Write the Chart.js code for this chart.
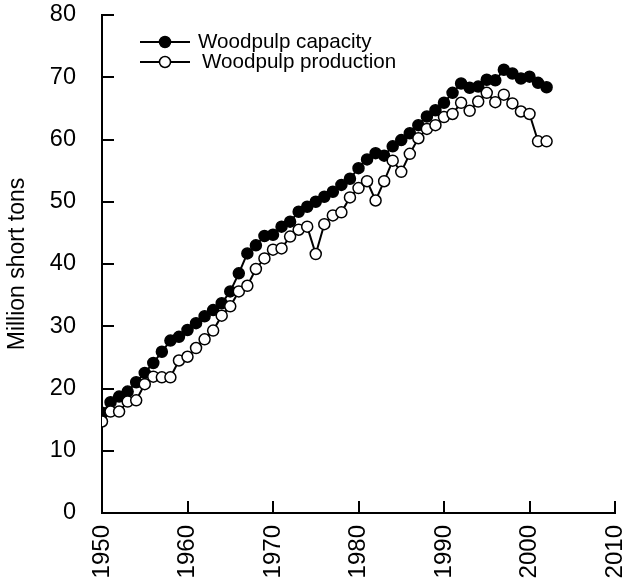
<!DOCTYPE html>
<html><head><meta charset="utf-8">
<script src="https://cdn.jsdelivr.net/npm/chart.js@4.4.0/dist/chart.umd.min.js"></script>
<style>html,body{margin:0;padding:0;background:#fff;}canvas{display:block;}</style>
</head><body>
<canvas id="c" width="622" height="578"></canvas>
<script>
const years = [1950,1951,1952,1953,1954,1955,1956,1957,1958,1959,
  1960,1961,1962,1963,1964,1965,1966,1967,1968,1969,
  1970,1971,1972,1973,1974,1975,1976,1977,1978,1979,
  1980,1981,1982,1983,1984,1985,1986,1987,1988,1989,
  1990,1991,1992,1993,1994,1995,1996,1997,1998,1999,
  2000,2001,2002];
const capacity = [16.1,17.8,18.7,19.5,21.0,22.5,24.1,25.9,27.7,28.3,
  29.4,30.5,31.6,32.6,33.7,35.6,38.5,41.7,43.0,44.5,
  44.7,46.0,46.8,48.4,49.2,50.0,50.8,51.6,52.7,53.7,
  55.4,56.8,57.8,57.4,58.9,59.9,61.0,62.3,63.7,64.7,
  65.9,67.5,69.0,68.3,68.5,69.6,69.5,71.2,70.6,69.8,
  70.1,69.1,68.4];
const production = [14.7,16.3,16.3,17.9,18.1,20.7,21.9,21.8,21.8,24.5,
  25.1,26.5,27.9,29.3,31.7,33.2,35.6,36.5,39.2,40.9,
  42.3,42.5,44.4,45.5,46.0,41.6,46.4,47.8,48.3,50.7,
  52.2,53.3,50.2,53.3,56.6,54.8,57.7,60.2,61.7,62.3,
  63.6,64.1,65.9,64.6,66.1,67.5,66.0,67.2,65.8,64.5,
  64.1,59.7,59.7];
const xTickValues = [1950,1960,1970,1980,1990,2000,2010];
const yTickValues = [0,10,20,30,40,50,60,70,80];
const seriesNames = ['Woodpulp capacity','Woodpulp production'];
const yAxisTitle = 'Million short tons';

const FONT = "'Liberation Sans', Arial, sans-serif";
const FS_LEGEND = 20.6, FS_XTICK = 24, FS_YTICK = 23.5, FS_TITLE = 23;

const innerTicks = {
  id: 'innerTicks',
  beforeDatasetsDraw(chart) {
    const ctx = chart.ctx, x = chart.scales.x, y = chart.scales.y;
    const L = 12;
    ctx.save();
    ctx.strokeStyle = '#000';
    ctx.lineWidth = 2;
    ctx.beginPath();
    yTickValues.forEach(v => {
      const py = Math.round(y.getPixelForValue(v));
      ctx.moveTo(x.left, py); ctx.lineTo(x.left + L, py);
    });
    xTickValues.forEach(v => {
      const px = Math.round(x.getPixelForValue(v));
      ctx.moveTo(px, y.bottom); ctx.lineTo(px, y.bottom - L);
    });
    ctx.stroke();
    ctx.restore();
  }
};

const lineLegend = {
  id: 'lineLegend',
  afterDraw(chart) {
    const ctx = chart.ctx;
    const x0 = 140, x1 = 190, rowY = [42, 62], textX = [198, 202];
    ctx.save();
    chart.data.datasets.forEach((d, i) => {
      const yy = rowY[i];
      ctx.strokeStyle = d.borderColor;
      ctx.lineWidth = d.borderWidth;
      ctx.beginPath(); ctx.moveTo(x0, yy); ctx.lineTo(x1, yy); ctx.stroke();
      ctx.beginPath();
      ctx.arc((x0 + x1) / 2, yy, d.pointRadius, 0, Math.PI * 2);
      ctx.fillStyle = d.pointBackgroundColor; ctx.fill();
      ctx.lineWidth = d.pointBorderWidth; ctx.strokeStyle = d.pointBorderColor; ctx.stroke();
      ctx.fillStyle = '#000';
      ctx.font = FS_LEGEND + 'px ' + FONT;
      ctx.textBaseline = 'middle';
      ctx.textAlign = 'left';
      ctx.fillText(d.label, textX[i], yy);
    });
    ctx.restore();
  }
};

new Chart(document.getElementById('c'), {
  type: 'line',
  data: {
    datasets: [
      {
        label: seriesNames[0],
        data: years.map((yr, i) => ({x: yr, y: capacity[i]})),
        borderColor: '#000', borderWidth: 2,
        pointRadius: 5.5, pointBackgroundColor: '#000', pointBorderColor: '#000', pointBorderWidth: 1.5,
        order: 1, tension: 0
      },
      {
        label: seriesNames[1],
        data: years.map((yr, i) => ({x: yr, y: production[i]})),
        borderColor: '#000', borderWidth: 2,
        pointRadius: 5.5, pointBackgroundColor: '#fff', pointBorderColor: '#000', pointBorderWidth: 1.5,
        order: 0, tension: 0
      }
    ]
  },
  options: {
    responsive: false,
    animation: false,
    devicePixelRatio: 1,
    layout: { padding: { top: 15, right: 4, left: 0, bottom: 0 } },
    plugins: { legend: { display: false }, tooltip: { enabled: false } },
    scales: {
      x: {
        type: 'linear', min: 1950, max: 2010,
        grid: { display: false, drawTicks: false },
        border: { display: true, color: '#000', width: 2 },
        ticks: {
          stepSize: 10, autoSkip: false, minRotation: 90, maxRotation: 90,
          padding: 12, color: '#000', font: { family: FONT, size: FS_XTICK },
          callback: v => String(v)
        },
        afterFit(s) { s.height = 65; s.paddingLeft = 0; s.paddingRight = 0; }
      },
      y: {
        min: 0, max: 80,
        grid: { display: false, drawTicks: false },
        border: { display: true, color: '#000', width: 2 },
        ticks: { stepSize: 10, padding: 26, color: '#000', font: { family: FONT, size: FS_YTICK } },
        title: { display: true, text: yAxisTitle, color: '#000', font: { family: FONT, size: FS_TITLE }, padding: { top: 4, bottom: 0 } },
        afterFit(s) { s.width = 102; s.paddingTop = 0; s.paddingBottom = 0; }
      }
    }
  },
  plugins: [innerTicks, lineLegend]
});
</script>
</body></html>
